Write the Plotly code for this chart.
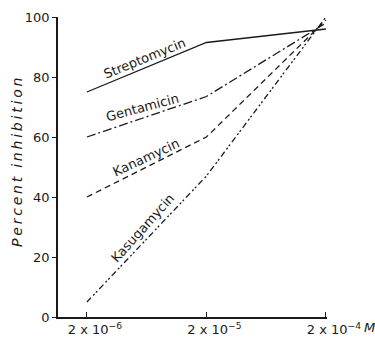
import plotly.graph_objects as go

concentrations = [2e-6, 2e-5, 2e-4]
streptomycin = [75, 91.5, 96]
gentamicin = [60, 73.5, 98]
kanamycin = [40, 60, 99]
kasugamycin = [5, 47, 100]

tick_vals = [2e-6, 2e-5, 2e-4]
tick_text = ["2 x 10<sup>−6</sup>", "2 x 10<sup>−5</sup>", "2 x 10<sup>−4</sup>"]
y_ticks = [0, 20, 40, 60, 80, 100]

series = [
    ("Streptomycin", streptomycin, "solid"),
    ("Gentamicin", gentamicin, "9px,3px,2px,3px"),
    ("Kanamycin", kanamycin, "6px,4px"),
    ("Kasugamycin", kasugamycin, "6px,3px,2px,2px,2px,3px"),
]

# label placement (pixel centre, rotation)
label_pos = {
    "Streptomycin": (144, 58, -22),
    "Gentamicin": (142, 107, -15),
    "Kanamycin": (146, 157, -25),
    "Kasugamycin": (142, 228, -48),
}

L, R, T, B = 58, 327, 17, 317
W, H = 375, 343

fig = go.Figure()
for name, vals, dash in series:
    fig.add_trace(go.Scatter(
        x=concentrations, y=vals, mode="lines", name=name,
        line=dict(color="#1a1a1a", width=1.3, dash=dash),
        showlegend=False,
    ))

font_family = "DejaVu Sans, sans-serif"
for name, (px, py, ang) in label_pos.items():
    fig.add_annotation(
        x=(px - L) / (R - L), y=(B - py) / (B - T), xref="paper", yref="paper",
        xanchor="center", yanchor="middle",
        text=name, showarrow=False, textangle=ang,
        font=dict(family=font_family, size=13, color="#1a1a1a"),
    )

title = "&#8201;".join(list("Percent")) + "  " + "&#8201;".join(list("inhibition"))
fig.add_annotation(
    x=(17 - L) / (R - L), y=(B - 163) / (B - T), xref="paper", yref="paper",
    xanchor="center", yanchor="middle",
    text="<i>" + title + "</i>", showarrow=False, textangle=-90,
    font=dict(family=font_family, size=14, color="#1a1a1a"),
)
fig.add_annotation(
    x=(369 - L) / (R - L), y=(B - 327) / (B - T), xref="paper", yref="paper",
    xanchor="center", yanchor="middle",
    text="<i>M</i>", showarrow=False,
    font=dict(family=font_family, size=13, color="#1a1a1a"),
)

fig.update_xaxes(
    type="log", range=[-5.941, -3.690],
    tickvals=tick_vals, ticktext=tick_text,
    ticks="inside", ticklen=5, tickcolor="#1a1a1a",
    showline=True, linecolor="#1a1a1a", linewidth=1.5,
    showgrid=False, zeroline=False,
    ticklabelshift=8,
    tickfont=dict(family=font_family, size=13, color="#1a1a1a"),
)
fig.update_yaxes(
    range=[0, 100], tickvals=y_ticks,
    ticks="outside", ticklen=4, tickcolor="#1a1a1a",
    showline=True, linecolor="#1a1a1a", linewidth=1.5,
    showgrid=False, zeroline=False,
    tickfont=dict(family=font_family, size=13, color="#1a1a1a"),
)
fig.update_layout(
    width=W, height=H,
    margin=dict(l=L, r=W - R, t=T, b=H - B, autoexpand=False),
    plot_bgcolor="white", paper_bgcolor="white",
)
fig.write_html(
    "out.html",
    config={"displayModeBar": False},
    post_script="document.body.style.margin='0';document.body.style.overflow='hidden';",
)
